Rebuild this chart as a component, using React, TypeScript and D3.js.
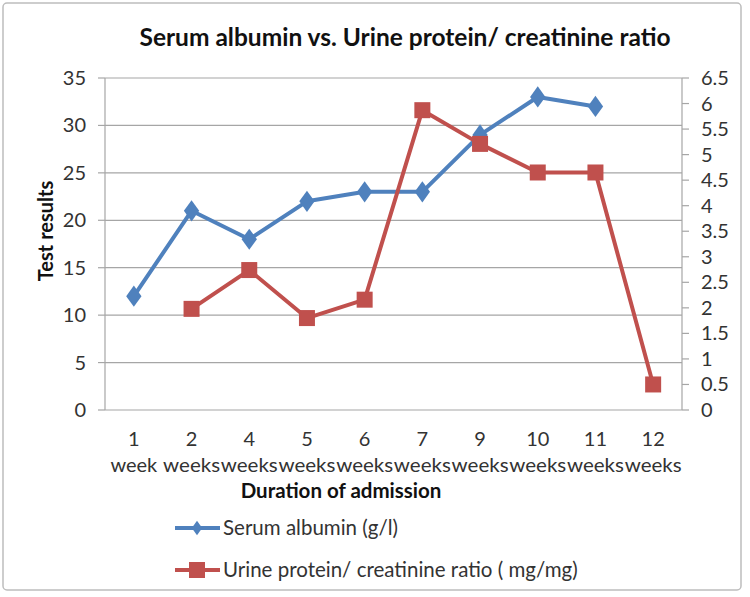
import * as d3 from 'd3';
import { useEffect, useRef } from 'react';

const categories = ['1|week', '2|weeks', '4|weeks', '5|weeks', '6|weeks', '7|weeks', '9|weeks', '10|weeks', '11|weeks', '12|weeks'];
const albumin: (number | null)[] = [12, 21, 18, 22, 23, 23, 29, 33, 32, null];
const urineRatio: (number | null)[] = [null, 1.98, 2.74, 1.8, 2.16, 5.87, 5.21, 4.65, 4.65, 0.5];
const leftTicks = [0, 5, 10, 15, 20, 25, 30, 35];
const rightTicks = d3.range(0, 6.51, 0.5);

const BLUE = '#4f81bd';
const RED = '#c0504d';
const FONT = 'Lato, "Open Sans", sans-serif';

const App = () => {
  const ref = useRef<SVGSVGElement | null>(null);

  useEffect(() => {
    if (!ref.current) return;
    const svg = d3.select(ref.current);
    svg.selectAll('*').remove();

    const width = 750;
    const height = 597;
    const left = 105;
    const right = 682;
    const top = 78;
    const bottom = 410;

    svg.attr('width', width).attr('height', height)
      .style('display', 'block').style('position', 'absolute').style('left', '0').style('top', '0');

    svg.append('rect')
      .attr('x', 3).attr('y', 3).attr('width', 738).attr('height', 587)
      .attr('rx', 4).attr('fill', '#fff').attr('stroke', '#bdbdbd').attr('stroke-width', 1.5);

    const x = d3.scaleBand().domain(categories).range([left, right]);
    const yL = d3.scaleLinear().domain([0, 35]).range([bottom, top]);
    const yR = d3.scaleLinear().domain([0, 6.5]).range([bottom, top]);
    const cx = (c: string) => (x(c) || 0) + x.bandwidth() / 2;

    // gridlines
    svg.append('g').selectAll('line').data(leftTicks.filter(t => t > 0)).enter().append('line')
      .attr('x1', left).attr('x2', right)
      .attr('y1', d => yL(d)).attr('y2', d => yL(d))
      .attr('stroke', '#a6a6a6').attr('stroke-width', 1.2);

    // left axis
    const gl = svg.append('g');
    gl.append('line').attr('x1', left).attr('x2', left).attr('y1', top).attr('y2', bottom)
      .attr('stroke', '#a6a6a6').attr('stroke-width', 1.2);
    gl.selectAll('line.t').data(leftTicks).enter().append('line').attr('class', 't')
      .attr('x1', left - 7).attr('x2', left).attr('y1', d => yL(d)).attr('y2', d => yL(d))
      .attr('stroke', '#a6a6a6').attr('stroke-width', 1.2);
    gl.selectAll('text').data(leftTicks).enter().append('text')
      .attr('x', 86).attr('y', d => yL(d)).attr('dy', '0.35em')
      .attr('text-anchor', 'end').attr('font-family', FONT).attr('font-size', 20).attr('fill', '#333')
      .text(d => d);

    // right axis
    const gr = svg.append('g');
    gr.append('line').attr('x1', right).attr('x2', right).attr('y1', top).attr('y2', bottom)
      .attr('stroke', '#a6a6a6').attr('stroke-width', 1.2);
    gr.selectAll('line.t').data(rightTicks).enter().append('line').attr('class', 't')
      .attr('x1', right).attr('x2', right + 7).attr('y1', d => yR(d)).attr('y2', d => yR(d))
      .attr('stroke', '#a6a6a6').attr('stroke-width', 1.2);
    gr.selectAll('text').data(rightTicks).enter().append('text')
      .attr('x', 701).attr('y', d => yR(d)).attr('dy', '0.35em')
      .attr('font-family', FONT).attr('font-size', 20).attr('fill', '#333')
      .text(d => String(d));

    // bottom axis
    svg.append('line').attr('x1', left).attr('x2', right).attr('y1', bottom).attr('y2', bottom)
      .attr('stroke', '#a6a6a6').attr('stroke-width', 1.2);
    const cat = svg.append('g').selectAll('text').data(categories).enter().append('text')
      .attr('text-anchor', 'middle').attr('font-family', FONT).attr('font-size', 20).attr('fill', '#333');
    cat.append('tspan').attr('x', d => cx(d)).attr('y', 446).text(d => d.split('|')[0]);
    cat.append('tspan').attr('x', d => cx(d)).attr('y', 472)
      .attr('textLength', d => (d.endsWith('weeks') ? 57 : null))
      .attr('lengthAdjust', 'spacingAndGlyphs')
      .text(d => d.split('|')[1]);

    // titles
    svg.append('text').attr('x', 405).attr('y', 46).attr('text-anchor', 'middle')
      .attr('font-family', FONT).attr('font-weight', 'bold').attr('font-size', 24.5).attr('fill', '#111')
      .text('Serum albumin vs. Urine protein/ creatinine ratio');
    svg.append('text').attr('transform', 'translate(53,231) rotate(-90)').attr('text-anchor', 'middle')
      .attr('font-family', FONT).attr('font-weight', 'bold').attr('font-size', 20).attr('fill', '#111')
      .text('Test results');
    svg.append('text').attr('x', 341).attr('y', 498).attr('text-anchor', 'middle')
      .attr('font-family', FONT).attr('font-weight', 'bold').attr('font-size', 20.5).attr('fill', '#111')
      .text('Duration of admission');

    // series
    const lineL = d3.line<number | null>()
      .defined(d => d !== null)
      .x((_, i) => cx(categories[i]))
      .y(d => yL(d as number));
    const lineR = d3.line<number | null>()
      .defined(d => d !== null)
      .x((_, i) => cx(categories[i]))
      .y(d => yR(d as number));

    svg.append('path').datum(albumin).attr('d', lineL).attr('fill', 'none')
      .attr('stroke', BLUE).attr('stroke-width', 4).attr('stroke-linejoin', 'round');
    svg.append('g').selectAll('path')
      .data(albumin.map((v, i) => ({ v, c: categories[i] })).filter(d => d.v !== null))
      .enter().append('path')
      .attr('d', d3.symbol(d3.symbolDiamond, 130)())
      .attr('transform', d => `translate(${cx(d.c)},${yL(d.v as number)}) scale(1.25,1)`)
      .attr('fill', BLUE);

    svg.append('path').datum(urineRatio).attr('d', lineR).attr('fill', 'none')
      .attr('stroke', RED).attr('stroke-width', 4).attr('stroke-linejoin', 'round');
    svg.append('g').selectAll('rect')
      .data(urineRatio.map((v, i) => ({ v, c: categories[i] })).filter(d => d.v !== null))
      .enter().append('rect')
      .attr('x', d => cx(d.c) - 8).attr('y', d => yR(d.v as number) - 8)
      .attr('width', 16).attr('height', 16).attr('fill', RED);

    // legend
    const lg = svg.append('g');
    lg.append('line').attr('x1', 175).attr('x2', 220).attr('y1', 528).attr('y2', 528)
      .attr('stroke', BLUE).attr('stroke-width', 4);
    lg.append('path').attr('d', d3.symbol(d3.symbolDiamond, 60)())
      .attr('transform', 'translate(197,528) scale(1.25,1)').attr('fill', BLUE);
    lg.append('text').attr('x', 223).attr('y', 535)
      .attr('font-family', FONT).attr('font-size', 20.5).attr('fill', '#333')
      .text('Serum albumin (g/l)');
    lg.append('line').attr('x1', 175).attr('x2', 220).attr('y1', 570).attr('y2', 570)
      .attr('stroke', RED).attr('stroke-width', 4);
    lg.append('rect').attr('x', 189).attr('y', 562).attr('width', 16).attr('height', 16).attr('fill', RED);
    lg.append('text').attr('x', 223).attr('y', 577)
      .attr('font-family', FONT).attr('font-size', 20.5).attr('fill', '#333')
      .text('Urine protein/ creatinine ratio ( mg/mg)');
  }, []);

  return <svg ref={ref} />;
};

export default App;
